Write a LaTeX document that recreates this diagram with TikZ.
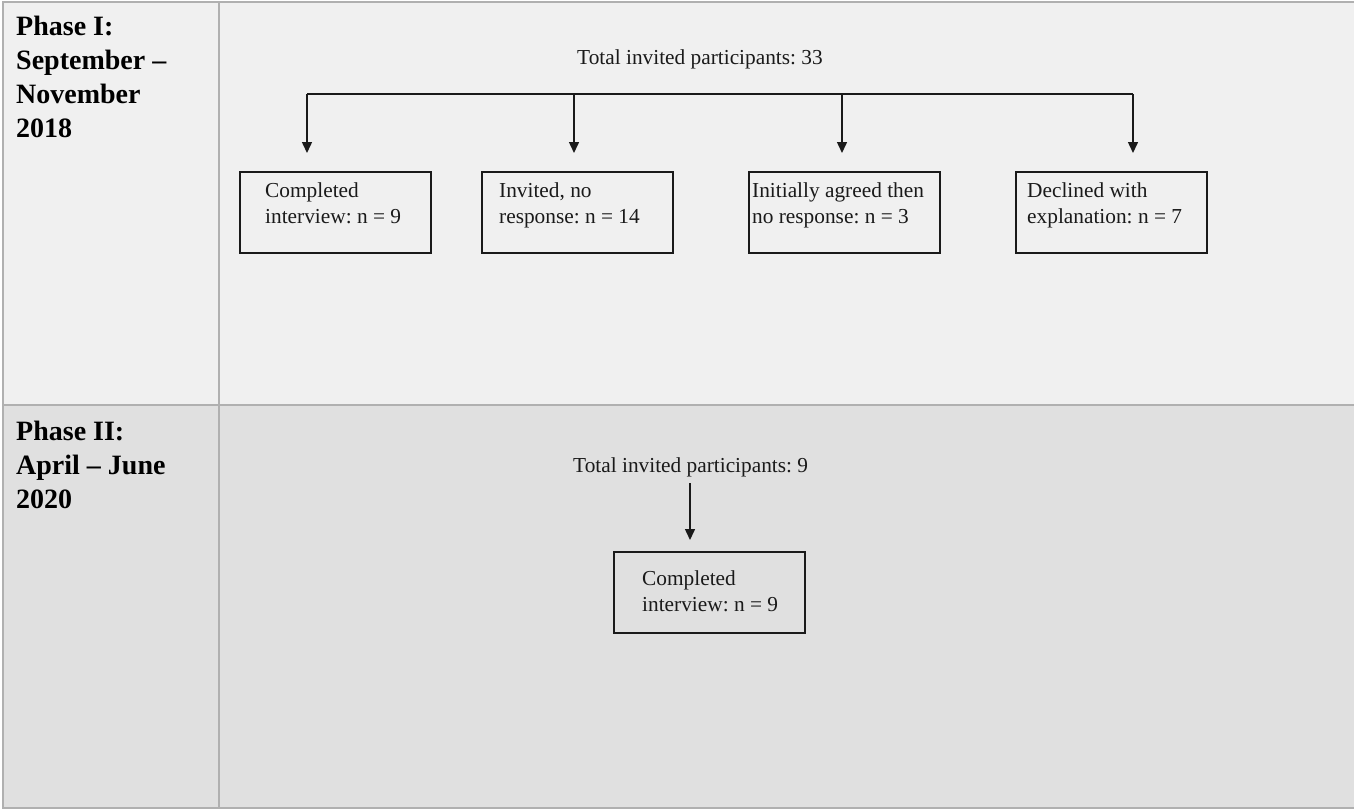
\documentclass[tikz,border=0pt]{standalone}
\usepackage{fontspec}
\setmainfont{Liberation Serif}
\usetikzlibrary{arrows.meta}
\frenchspacing
\definecolor{rowone}{HTML}{F0F0F0}
\definecolor{rowtwo}{HTML}{E0E0E0}
\definecolor{gridc}{HTML}{B0B0B0}
\definecolor{ink}{HTML}{1A1A1A}
\tikzset{
  gridline/.style={draw=gridc, line width=2pt},
  head/.style={font=\fontsize{28}{34}\selectfont\bfseries, align=left, anchor=base west, inner sep=0pt, text=black},
  txt/.style={font=\fontsize{21.33}{26}\selectfont, align=left, anchor=base west, inner sep=0pt, text=ink},
  box/.style={draw=ink, line width=1.5pt, anchor=north west, minimum width=191pt, minimum height=81pt, inner sep=0pt},
  conn/.style={draw=ink, line width=1.5pt},
  arr/.style={conn, -{Triangle[width=10pt,length=11pt]}}
}
\begin{document}
\begin{tikzpicture}[x=1pt,y=-1pt]
\useasboundingbox (0,0) rectangle (1354,811);
\fill[white] (0,0) rectangle (1354,811);
\fill[rowone] (3,2) rectangle (1354,405);
\fill[rowtwo] (3,405) rectangle (1354,808);
\draw[gridline] (1354,2) -- (3,2) -- (3,808) -- (1354,808);
\draw[gridline] (3,405) -- (1354,405);
\draw[gridline] (219,2) -- (219,808);

% headings (base anchor = baseline of last line)
\node[head] (ph1) at (16,137) {Phase I:\\September --\\November\\2018};
\node[head] (ph2) at (16,508) {Phase II:\\April -- June\\2020};

% phase I
\node[txt] (tot1) at (577,64) {Total invited participants: 33};
\node[box] (b1) at (239,171) {};
\node[box] (b2) at (481,171) {};
\node[box] (b3) at (748,171) {};
\node[box] (b4) at (1015,171) {};
\node[txt] (t1) at (265,223) {Completed\\interview: n = 9};
\node[txt] (t2) at (499,223) {Invited, no\\response: n = 14};
\node[txt] (t3) at (752,223) {Initially agreed then\\no response: n = 3};
\node[txt] (t4) at (1027,223) {Declined with\\explanation: n = 7};
\coordinate (h1) at (307,94);
\coordinate (h2) at (574,94);
\coordinate (h3) at (842,94);
\coordinate (h4) at (1133,94);
\draw[conn] (h1) -- (h4);
\draw[arr, shorten >=18pt] (h1) -- (h1 |- b1.north);
\draw[arr, shorten >=18pt] (h2) -- (h2 |- b2.north);
\draw[arr, shorten >=18pt] (h3) -- (h3 |- b3.north);
\draw[arr, shorten >=18pt] (h4) -- (h4 |- b4.north);

% phase II
\node[txt] (tot2) at (573,472) {Total invited participants: 9};
\node[box] (b5) at (613,551) {};
\node[txt] (t5) at (642,611) {Completed\\interview: n = 9};
\coordinate (s5) at (690,483);
\draw[arr, shorten >=11pt] (s5) -- (s5 |- b5.north);
\end{tikzpicture}
\end{document}
